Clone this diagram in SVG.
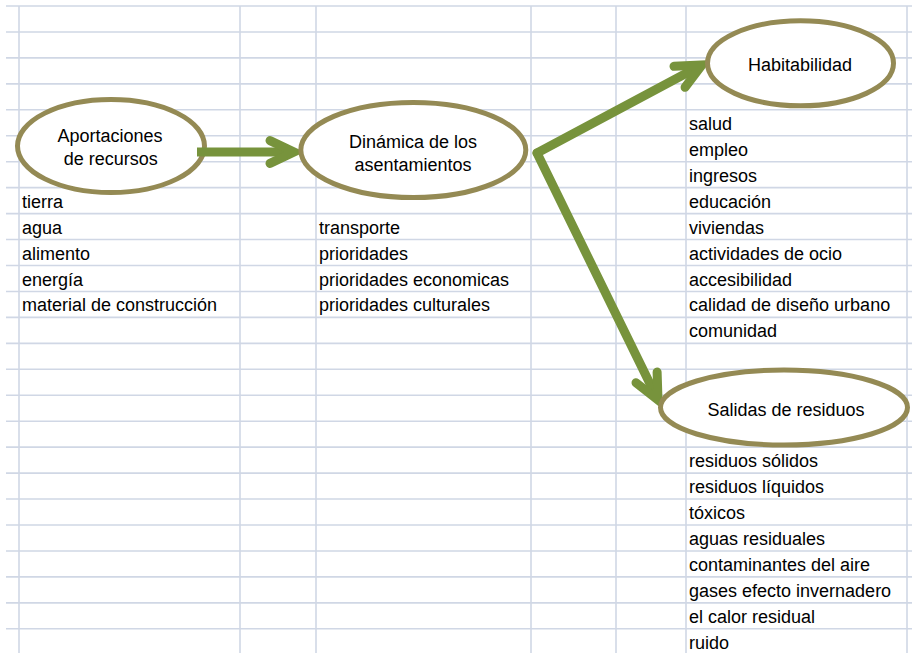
<svg xmlns="http://www.w3.org/2000/svg" width="912" height="653" viewBox="0 0 912 653">
<style>
.grid{stroke:#D0D7E5;stroke-width:1.6;fill:none}
.node{fill:#FFFFFF;stroke:#948A54;stroke-width:5}
.t{font-family:"Liberation Sans",Arial,sans-serif;font-size:18px;fill:#000000}
.c{text-anchor:middle}
.shaft{fill:none;stroke:#77933C;stroke-width:9}
.head{fill:none;stroke:#77933C;stroke-width:9;stroke-linejoin:miter;stroke-linecap:round}
</style>
<rect x="0" y="0" width="912" height="653" fill="#FFFFFF"/>
<g id="grid" class="grid">
<path d="M6,6H912M6,31.95H912M6,57.9H912M6,83.85H912M6,109.8H912M6,135.75H912M6,161.7H912M6,187.65H912M6,213.6H912M6,239.55H912M6,265.5H912M6,291.45H912M6,317.4H912M6,343.35H912M6,369.3H912M6,395.25H912M6,421.2H912M6,447.15H912M6,473.1H912M6,499.05H912M6,525H912M6,550.95H912M6,576.9H912M6,602.85H912M6,628.8H912"/>
<path d="M19,6V653M240,6V653M316,6V653M531,6V653M616,6V653M686,6V653M907,6V653"/>
</g>
<g id="node-aportaciones">
<ellipse class="node" cx="111" cy="146" rx="93.5" ry="46.5"/>
<text class="t c" x="110" y="141.7">Aportaciones</text>
<text class="t c" x="110.7" y="165">de recursos</text>
</g>
<g id="connectors">
<g id="arrow-aportaciones-dinamica">
<path class="shaft" d="M197,152H290"/>
<path class="head" d="M270,140.6L294,152L270,163.4"/>
</g>
<g id="arrow-dinamica-habitabilidad">
<path class="shaft" style="stroke-linecap:round" d="M537,153L698,67"/>
<path class="head" d="M674,66.3L702,65L685.1,87.3"/>
</g>
<g id="arrow-dinamica-salidas">
<path class="shaft" style="stroke-linecap:round" d="M537,153L656,396"/>
<path class="head" d="M657.1,372L658,400L636,382.8"/>
</g>
</g>
<g id="node-dinamica">
<ellipse class="node" cx="413.3" cy="150" rx="112.5" ry="47.5"/>
<text class="t c" x="413" y="148.3">Dinámica de los</text>
<text class="t c" x="413" y="171">asentamientos</text>
</g>
<g id="node-habitabilidad">
<ellipse class="node" cx="800.5" cy="63.3" rx="93" ry="42.5"/>
<text class="t c" x="800" y="70.7">Habitabilidad</text>
</g>
<g id="node-salidas">
<ellipse class="node" cx="784" cy="407.5" rx="123.5" ry="37.5"/>
<text class="t c" x="786" y="416">Salidas de residuos</text>
</g>
<g id="list-aportaciones" class="t">
<text x="22" y="207.6">tierra</text>
<text x="22" y="233.6">agua</text>
<text x="22" y="259.5">alimento</text>
<text x="22" y="285.5">energía</text>
<text x="22" y="311.4">material de construcción</text>
</g>
<g id="list-dinamica" class="t">
<text x="319" y="233.6">transporte</text>
<text x="319" y="259.5">prioridades</text>
<text x="319" y="285.5">prioridades economicas</text>
<text x="319" y="311.4">prioridades culturales</text>
</g>
<g id="list-habitabilidad" class="t">
<text x="689" y="129.8">salud</text>
<text x="689" y="155.7">empleo</text>
<text x="689" y="181.7">ingresos</text>
<text x="689" y="207.6">educación</text>
<text x="689" y="233.6">viviendas</text>
<text x="689" y="259.5">actividades de ocio</text>
<text x="689" y="285.5">accesibilidad</text>
<text x="689" y="311.4">calidad de diseño urbano</text>
<text x="689" y="337.4">comunidad</text>
</g>
<g id="list-salidas" class="t">
<text x="689" y="467.1">residuos sólidos</text>
<text x="689" y="493.1">residuos líquidos</text>
<text x="689" y="519">tóxicos</text>
<text x="689" y="545">aguas residuales</text>
<text x="689" y="570.9">contaminantes del aire</text>
<text x="689" y="596.9">gases efecto invernadero</text>
<text x="689" y="622.8">el calor residual</text>
<text x="689" y="648.8">ruido</text>
</g>
</svg>
